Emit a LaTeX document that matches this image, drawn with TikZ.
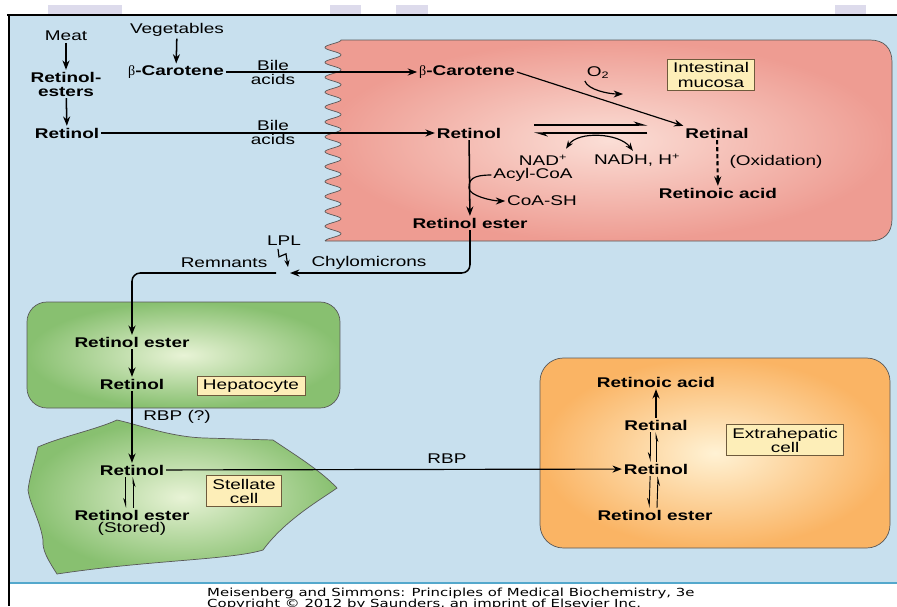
\documentclass[tikz,border=0pt]{standalone}
\usepackage{fontspec}
\setmainfont{Liberation Sans}[FakeStretch=1.35]
\newfontfamily\capfont{DejaVu Sans}[FakeStretch=1.34]
\newfontfamily\greekfont{Liberation Serif}
\usetikzlibrary{arrows.meta,calc}

\definecolor{bgblue}{RGB}{200,224,238}
\definecolor{slidetab}{RGB}{221,219,236}
\definecolor{rulecyan}{RGB}{84,168,204}
\definecolor{mucosain}{RGB}{251,222,214}
\definecolor{mucosaout}{RGB}{238,156,146}
\definecolor{liverin}{RGB}{232,243,214}
\definecolor{liverout}{RGB}{136,192,112}
\definecolor{extrain}{RGB}{255,242,212}
\definecolor{extraout}{RGB}{250,180,100}
\definecolor{tagfill}{RGB}{253,238,184}
\definecolor{tagline}{RGB}{110,90,60}

\newcommand{\bcar}{{\greekfont\mdseries β}-Carotene}

\tikzset{
  txt/.style={font=\fontsize{12}{12}\selectfont, inner sep=1.5pt, align=center},
  cpd/.style={txt, font=\fontsize{12}{12}\selectfont\bfseries},
  tag/.style={txt, draw=tagline, fill=tagfill, line width=0.6pt, inner xsep=5pt, inner ysep=3pt},
  arr/.style={line width=1.3pt, -{Stealth[length=8pt,width=6pt]}},
  flat/.style={line width=1pt},
  harp/.style={line width=0.8pt, -{Stealth[length=7pt,width=4pt,harpoon,swap]}},
  eq/.style={line width=1pt, -{Stealth[length=10pt,width=6pt,harpoon]}},
  cell/.style={draw=black!65, line width=0.6pt},
}

\begin{document}
\begin{tikzpicture}[x=0.03cm,y=-0.03cm]
\useasboundingbox (0,0) rectangle (897,606);
\clip (0,0) rectangle (897,606);
\fill[white] (0,0) rectangle (897,606);
% slide frame
\foreach \a/\b in {48/122,330/361,396/428,835/866}
  \fill[slidetab] (\a,5) rectangle (\b,15);
\fill[bgblue] (9,15) rectangle (897,583);
\draw[rulecyan, line width=0.9pt] (9,583) -- (897,583);
\draw[line width=2pt] (7,15) -- (897,15);
\draw[line width=2pt] (9,14) -- (9,606);

% cells
\shadedraw[cell, inner color=mucosain, outer color=mucosaout]
  (341,40) -- (870,40) .. controls (884,40) and (892,48) .. (892,62)
  -- (892,219) .. controls (892,233) and (884,241) .. (870,241)
  -- (325,241)
  -- plot[domain=241:40, samples=300, smooth] ({333+8*cos(24.16*(\x-40))}, \x) -- cycle;
\shadedraw[cell, inner color=liverin, outer color=liverout, rounded corners=17pt]
  (27,302) rectangle (340,408);
\shadedraw[cell, inner color=liverin, outer color=liverout]
  (38,447) .. controls (60,437) and (95,430) .. (117,420)
  .. controls (140,425) and (170,437) .. (205,438)
  -- (273,440)
  .. controls (295,455) and (320,470) .. (337,488)
  .. controls (320,500) and (285,520) .. (263,550)
  .. controls (230,560) and (150,560) .. (57,574)
  .. controls (48,560) and (42,550) .. (43,540)
  .. controls (40,520) and (30,505) .. (28,490)
  .. controls (30,475) and (35,460) .. (38,447) -- cycle;
\shadedraw[cell, inner color=extrain, outer color=extraout, rounded corners=20pt]
  (540,358) rectangle (890,548);

% lumen
\node[txt] (meat) at (66,36) {Meat};
\node[cpd] (resters) at (66,84) {Retinol-\\esters};
\node[cpd] (retA) at (67,133) {Retinol};
\node[txt] (veg) at (177,30) {Vegetables};
\node[cpd] (carA) at (176,72) {\bcar};
\node[txt] (bileA) at (273,72) {Bile\\acids};
\node[txt] (bileB) at (273,132) {Bile\\acids};

% intestinal mucosa
\node[cpd] (carB) at (467,72) {\bcar};
\node[txt] (o2) at (598,73) {O\textsubscript{2}};
\node[tag] (mucosatag) at (711,75) {Intestinal\\mucosa};
\node[cpd] (retB) at (469,133) {Retinol};
\node[cpd] (retal) at (717,133) {Retinal};
\node[txt] (nad) at (543,160) {NAD\textsuperscript{+}};
\node[txt] (nadh) at (637,160) {NADH, H\textsuperscript{+}};
\node[txt] (oxid) at (776,162) {(Oxidation)};
\node[cpd] (racidA) at (718,193) {Retinoic acid};
\node[txt] (acyl) at (533,175) {Acyl-CoA};
\node[txt] (coash) at (542,201) {CoA-SH};
\node[cpd] (resterA) at (470,223) {Retinol ester};
\coordinate (o2end) at (623,94);
\coordinate (acylbend) at (469,188);

% lymph / blood
\node[txt] (lpl) at (284,241) {LPL};
\node[txt] (remn) at (224,263) {Remnants};
\node[txt] (chylo) at (369,263) {Chylomicrons};
\coordinate (chylend) at (290,273);
\coordinate (remstart) at (276,273);
\coordinate (lplend) at (288,267);

% liver
\node[cpd] (hester) at (132,342) {Retinol ester};
\node[cpd] (hret) at (132,384) {Retinol};
\node[tag] (heptag) at (251,386) {Hepatocyte};
\node[txt] (rbpq) at (177,417) {RBP (?)};
\node[cpd] (stret) at (132,470) {Retinol};
\node[cpd] (stester) at (132,515) {Retinol ester};
\node[txt] (stored) at (132,529) {(Stored)};
\node[tag] (sttag) at (244,491) {Stellate\\cell};
\node[txt] (rbp) at (447,459) {RBP};

% extrahepatic
\node[cpd] (exacid) at (656,382) {Retinoic acid};
\node[cpd] (exretal) at (656,425) {Retinal};
\node[cpd] (exret) at (656,469) {Retinol};
\node[cpd] (exester) at (655,515) {Retinol ester};
\node[tag] (extag) at (785,440) {Extrahepatic\\cell};

% arrows
\draw[arr] (meat) -- (resters);
\draw[arr] (resters) -- (retA);
\draw[arr] (veg) -- (carA);
\draw[arr, flat] (carA) -- (carB);
\draw[arr, flat] (retA) -- (retB);
\draw[arr, flat] (carB.east) -- (retal.north west);
\draw[arr, flat] (o2.south west) .. controls +(3,9) and +(-14,0) .. (o2end);
\draw[eq] ($(retB.east)+(31,-8)$) -- ($(retal.west)+(-36,-8)$);
\draw[eq] ($(retal.west)+(-36,0)$) -- ($(retB.east)+(31,0)$);
\draw[{Stealth[length=7pt,width=5pt]}-{Stealth[length=7pt,width=5pt]}, flat]
  ($(nad.north east)+(-3,-4)$) .. controls +(12,-18) and +(-14,-18) .. ($(nadh.north)+(-4,-1)$);
\draw[arr, line width=1.8pt, dash pattern=on 3.5pt off 2.5pt] (retal) -- (racidA);
\draw[arr] (retB) -- (resterA);
\draw[arr, flat] (acyl.west) .. controls +(-20,0) and +(0,-8) .. (acylbend)
  .. controls +(0,8) and +(-12,0) .. (coash.west);
\draw[arr, rounded corners=7pt] (resterA) |- (chylend);
\draw[flat, -{Stealth[length=6pt,width=4.5pt]}]
  ($(lpl.south)+(-6,1)$) -- ++(1,8) -- ++(7,-3) -- (lplend);
\draw[arr, rounded corners=7pt] (remstart) -| (hester);
\draw[arr] (hester) -- (hret);
\draw[arr] (hret) -- (stret);
\draw[harp] ([xshift=-5.5pt]stret.south) -- ([xshift=-5.5pt]stester.north);
\draw[harp] ([xshift=1pt]stester.north) -- ([xshift=1pt]stret.south);
\draw[arr, flat] (stret) -- (exret);
\draw[arr] (exretal) -- (exacid);
\draw[harp] ([xshift=-5pt]exretal.south) -- ([xshift=-5pt]exret.north);
\draw[harp] ([xshift=0pt]exret.north) -- ([xshift=0pt]exretal.south);
\draw[harp] ([xshift=-5pt]exret.south) -- ([xshift=-5pt]exester.north);
\draw[harp] ([xshift=1.7pt]exester.north) -- ([xshift=1.7pt]exret.south);

% source line
\node[anchor=base west, font=\capfont\fontsize{9.5}{11}\selectfont, inner sep=0] (cap1) at (207,596)
  {Meisenberg and Simmons: Principles of Medical Biochemistry, 3e};
\node[anchor=base west, font=\capfont\fontsize{9.5}{11}\selectfont, inner sep=0] (cap2) at (207,607)
  {Copyright © 2012 by Saunders, an imprint of Elsevier Inc.};
\end{tikzpicture}
\end{document}
